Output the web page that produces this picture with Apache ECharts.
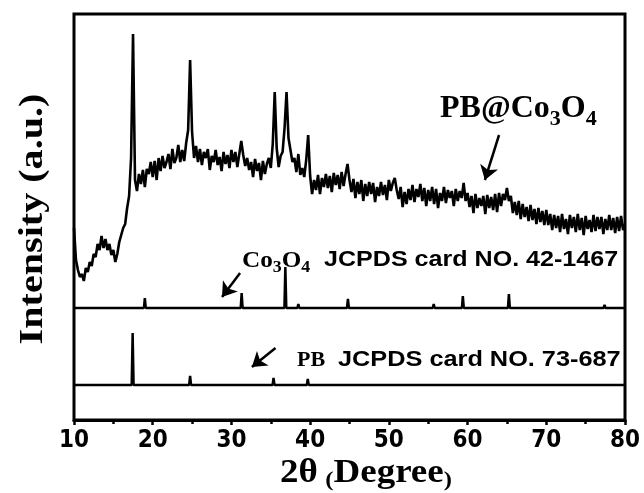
<!DOCTYPE html>
<html>
<head>
<meta charset="utf-8">
<script src="https://cdn.jsdelivr.net/npm/echarts@6/dist/echarts.min.js"></script>
<style>
html,body{margin:0;padding:0;background:#fff}
#main{width:644px;height:493px}
</style>
</head>
<body>
<div id="main"></div>
<script>
'use strict'
// measured pattern PB@Co3O4, one value every 0.25 deg from 10 to 80
var scanStart = 10
var scanStep = 0.25
var scanCounts = [
    192, 160, 150, 143,  146, 139, 152, 148,  158, 154, 166, 163,  176, 170, 184, 172,
    181, 170, 176, 165,  170, 158, 166, 178,  180, 192, 196, 212,  224, 262, 386, 240,
    229, 246, 236, 250,  233, 251, 246, 258,  243, 259, 240, 262,  249, 264, 252, 258,
    266, 251, 271, 257,  262, 275, 258, 270,  259, 277, 290, 360,  288, 262, 274, 258,
    271, 255, 268, 262,  271, 250, 264, 258,  270, 255, 263, 249,  268, 256, 265, 252,
    270, 258, 268, 253,  266, 279, 265, 254,  262, 250, 258, 243,  261, 249, 257, 240,
    259, 246, 256, 262,  252, 276, 328, 272,  253, 264, 268, 292,  328, 282, 270, 258,
    262, 248, 266, 245,  252, 243, 260, 285,  244, 226, 240, 230,  245, 226, 242, 233,
    246, 232, 244, 228,  247, 235, 245, 231,  248, 234, 246, 256,  240, 228, 241, 222,
    238, 226, 240, 219,  236, 224, 238, 226,  237, 218, 233, 224,  238, 225, 235, 220,
    240, 229, 237, 242,  230, 221, 233, 213,  228, 216, 231, 220,  235, 218, 231, 223,
    236, 219, 232, 214,  230, 219, 233, 216,  231, 212, 227, 219,  233, 217, 230, 222,
    229, 214, 231, 219,  229, 222, 237, 219,  227, 213, 224, 207,  226, 212, 222, 214,
    224, 206, 225, 212,  223, 210, 226, 208,  227, 214, 226, 220,  232, 219, 224, 207,
    218, 205, 219, 201,  216, 203, 213, 199,  215, 200, 211, 196,  212, 198, 209, 195,
    210, 195, 206, 190,  205, 192, 204, 188,  206, 191, 201, 186,  205, 192, 203, 188,
    206, 190, 202, 185,  204, 191, 200, 188,  205, 189, 203, 191,  203, 186, 201, 190,
    205, 190, 202, 187,  203, 189, 204, 190,  196
]

// reference cards (stick patterns)
var co3o4Peaks   = [19.0, 31.3, 36.85, 38.5, 44.8, 55.7, 59.4, 65.25, 68.8, 74.2, 77.4, 78.5]
var co3o4Heights = [10,   15,   41,    4,    9,    4,    12,   14,    2,    2,    3,    2]
var co3o4Base = 112
var pbPeaks   = [15.0, 17.45, 24.75, 35.35, 39.7, 43.7, 51.0, 54.3, 57.5]
var pbHeights = [2,    52,    9,     7,     6,    2,    2,    2,    2]
var pbBase = 35

// annotation arrows [from, to] in axis units
var arrowLines = [
    [[64.0, 285], [62.2, 240]],
    [[31.1, 147], [28.8, 123]],
    [[35.6, 72], [32.6, 53]]
]

var serif = "'Liberation Serif','Times New Roman',serif"
var sans = "'Liberation Sans',Arial,sans-serif"
var narrow = "'Liberation Sans Narrow','DejaVu Sans Condensed','Arial Narrow',sans-serif"

function buildScan() {
    var d = []
    for (var i = 0; i < scanCounts.length; i++) {
        d.push([scanStart + i * scanStep, scanCounts[i]])
    }
    return d
}

function buildSticks(peaks, heights, base) {
    var d = [[10, base]]
    for (var i = 0; i < peaks.length; i++) {
        d.push([peaks[i] - 0.12, base], [peaks[i], base + heights[i]], [peaks[i] + 0.12, base])
    }
    d.push([80, base])
    return d
}

var myChart = echarts.init(document.getElementById('main'))

var option = {
    animation: false,
    backgroundColor: '#fff',
    grid: {
        left: 74, right: 19, top: 14, bottom: 73,
        show: true, borderColor: '#000', borderWidth: 3
    },
    xAxis: {
        type: 'value', min: 10, max: 80, interval: 10,
        axisLine: { show: true, lineStyle: { color: '#000', width: 3 } },
        axisTick: { show: true, length: 5, lineStyle: { color: '#000', width: 2.5 } },
        minorTick: { show: true, splitNumber: 2, length: 4, lineStyle: { color: '#000', width: 2.5 } },
        splitLine: { show: false },
        axisLabel: { color: '#000', fontSize: 24, fontWeight: 'bold', fontFamily: narrow, margin: 9 }
    },
    yAxis: {
        type: 'value', min: 0, max: 406,
        axisLine: { show: false }, axisTick: { show: false },
        axisLabel: { show: false }, splitLine: { show: false }
    },
    series: [
        {
            name: 'PB@Co3O4', type: 'line', data: buildScan(),
            showSymbol: false, symbol: 'none',
            lineStyle: { color: '#000', width: 2.6 },
            emphasis: { disabled: true },
            markLine: {
                silent: true, animation: false,
                symbol: ['none', 'arrow'], symbolSize: 14,
                label: { show: false },
                lineStyle: { color: '#000', width: 2.5, type: 'solid' },
                emphasis: { disabled: true },
                data: arrowLines.map(function (a) {
                    return [{ coord: a[0] }, { coord: a[1] }]
                })
            }
        },
        {
            name: 'Co3O4', type: 'line', data: buildSticks(co3o4Peaks, co3o4Heights, co3o4Base),
            showSymbol: false, symbol: 'none',
            lineStyle: { color: '#000', width: 2.5 },
            emphasis: { disabled: true }
        },
        {
            name: 'PB', type: 'line', data: buildSticks(pbPeaks, pbHeights, pbBase),
            showSymbol: false, symbol: 'none',
            lineStyle: { color: '#000', width: 2.5 },
            emphasis: { disabled: true }
        }
    ],
    graphic: [
        {
            type: 'text', x: 440, y: 112,
            style: {
                text: '{m|PB@Co}{s|3}{m|O}{s|4}',
                align: 'left', verticalAlign: 'middle',
                rich: {
                    m: { fontFamily: serif, fontWeight: 'bold', fontSize: 32, lineHeight: 36, padding: [0, 0, 7, 0], fill: '#000' },
                    s: { fontFamily: serif, fontWeight: 'bold', fontSize: 22, lineHeight: 22, verticalAlign: 'bottom', fill: '#000' }
                }
            }
        },
        {
            type: 'text', x: 242, y: 263, scaleX: 1.05,
            style: {
                text: '{m|Co}{s|3}{m|O}{s|4}',
                align: 'left', verticalAlign: 'middle',
                rich: {
                    m: { fontFamily: serif, fontWeight: 'bold', fontSize: 24, lineHeight: 26, padding: [0, 0, 5, 0], fill: '#000' },
                    s: { fontFamily: serif, fontWeight: 'bold', fontSize: 17, lineHeight: 17, verticalAlign: 'bottom', fill: '#000' }
                }
            }
        },
        {
            type: 'text', x: 324, y: 260, scaleX: 1.14,
            style: {
                text: 'JCPDS card NO. 42-1467', align: 'left', verticalAlign: 'middle',
                font: 'bold 22px ' + sans, fill: '#000'
            }
        },
        {
            type: 'text', x: 297, y: 360,
            style: {
                text: 'PB', align: 'left', verticalAlign: 'middle',
                font: 'bold 22px ' + serif, fill: '#000'
            }
        },
        {
            type: 'text', x: 338, y: 360, scaleX: 1.15,
            style: {
                text: 'JCPDS card NO. 73-687', align: 'left', verticalAlign: 'middle',
                font: 'bold 22px ' + sans, fill: '#000'
            }
        },
        {
            type: 'text', x: 33, y: 219, rotation: Math.PI / 2, scaleX: 1.18,
            style: {
                text: 'Intensity (a.u.)', align: 'center', verticalAlign: 'middle',
                font: 'bold 34px ' + serif, fill: '#000'
            }
        },
        {
            type: 'text', x: 366, y: 473, scaleX: 1.12,
            style: {
                text: '{a|2θ}  {p|(}{a|Degree}{p|)}',
                align: 'center', verticalAlign: 'middle',
                rich: {
                    a: { fontFamily: serif, fontWeight: 'bold', fontSize: 33, lineHeight: 36, fill: '#000' },
                    p: { fontFamily: serif, fontWeight: 'bold', fontSize: 22, lineHeight: 24, verticalAlign: 'bottom', fill: '#000' }
                }
            }
        }
    ]
}
myChart.setOption(option)
</script>
</body>
</html>
